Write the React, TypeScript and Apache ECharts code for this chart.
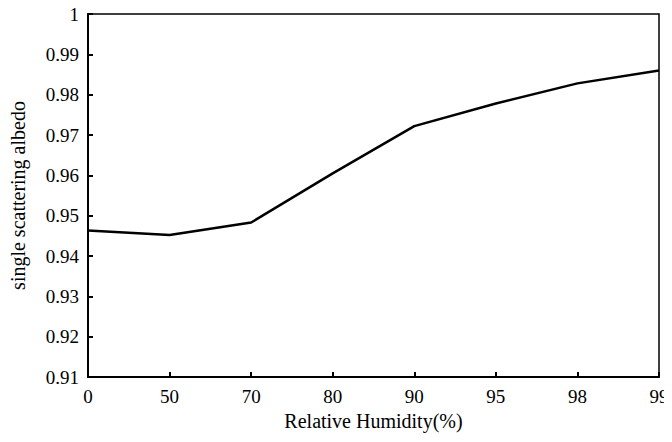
import React, { useEffect, useRef } from "react";
import * as echarts from "echarts";

const categories = ["0", "50", "70", "80", "90", "95", "98", "99"];
const albedo = [0.9463, 0.9452, 0.9483, 0.9605, 0.9722, 0.9778, 0.9828, 0.986];
const yMin = 0.91;
const yMax = 1;
const yStep = 0.01;

const FONT = "Liberation Serif";

export default function App() {
  const ref = useRef<HTMLDivElement>(null);
  useEffect(() => {
    const chart = echarts.init(ref.current!, null, { renderer: "svg" });
    chart.setOption({
      animation: false,
      backgroundColor: "#fff",
      grid: {
        left: 86,
        right: 13,
        top: 14,
        bottom: 65,
        show: true,
        borderColor: "#000",
        borderWidth: 1.5,
      },
      xAxis: {
        type: "category",
        data: categories,
        boundaryGap: false,
        name: "Relative Humidity(%)",
        nameLocation: "middle",
        nameGap: 32,
        nameTextStyle: { fontFamily: FONT, fontSize: 20, color: "#000" },
        axisLine: { lineStyle: { color: "#000", width: 2 } },
        axisTick: { inside: true, length: 5, lineStyle: { color: "#000", width: 2 } },
        axisLabel: { fontFamily: FONT, fontSize: 19, color: "#000", margin: 10 },
        splitLine: { show: false },
      },
      yAxis: {
        type: "value",
        min: yMin,
        max: yMax,
        interval: yStep,
        name: "single scattering albedo",
        nameLocation: "middle",
        nameGap: 60,
        nameTextStyle: { fontFamily: FONT, fontSize: 20, color: "#000" },
        axisLine: { show: true, lineStyle: { color: "#000", width: 2 } },
        axisTick: { show: true, inside: true, length: 5, lineStyle: { color: "#000", width: 2 } },
        axisLabel: {
          fontFamily: FONT,
          fontSize: 19,
          color: "#000",
          margin: 9,
          formatter: (v: number) => String(parseFloat(v.toFixed(2))),
        },
        splitLine: { show: false },
      },
      series: [
        {
          type: "line",
          data: albedo,
          showSymbol: false,
          symbol: "none",
          lineStyle: { color: "#000", width: 2.5 },
        },
      ],
    });
    return () => chart.dispose();
  }, []);
  return <div ref={ref} style={{ width: 672, height: 442, margin: -8 }} />;
}
